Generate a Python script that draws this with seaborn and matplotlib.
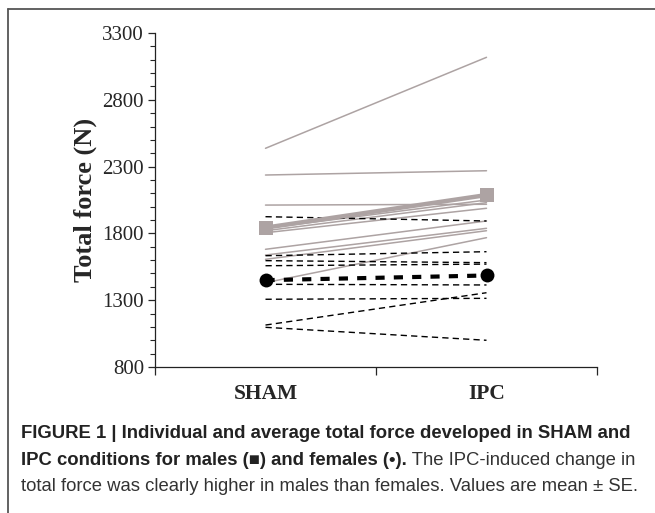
import numpy as np
import pandas as pd
import matplotlib
matplotlib.use('Agg')
import matplotlib.pyplot as plt
from matplotlib.lines import Line2D
from matplotlib.ticker import MultipleLocator, FixedLocator
import seaborn as sns

# values (N)
conditions = ['SHAM', 'IPC']
male_sham = [2437, 2237, 2012, 1838, 1820, 1805, 1681, 1638, 1606, 1431]
male_ipc = [3118, 2269, 2018, 2050, 2030, 1988, 1893, 1838, 1820, 1768]
female_sham = [1925, 1633, 1596, 1558, 1419, 1307, 1114, 1097]
female_ipc = [1893, 1663, 1581, 1570, 1414, 1314, 1356, 1000]
male_mean = [1843, 2087]
female_mean = [1450, 1485]
y_ticks = [800, 1300, 1800, 2300, 2800, 3300]

gray = '#ada3a3'

rows = []
for sex, sham, ipc in [('M', male_sham, male_ipc), ('F', female_sham, female_ipc)]:
    for i, (a, b) in enumerate(zip(sham, ipc)):
        rows.append({'subject': f'{sex}{i}', 'sex': sex, 'pos': 0, 'force': a})
        rows.append({'subject': f'{sex}{i}', 'sex': sex, 'pos': 1, 'force': b})
df = pd.DataFrame(rows)
means = pd.DataFrame({'pos': [0, 1, 0, 1],
                      'force': male_mean + female_mean,
                      'sex': ['M', 'M', 'F', 'F']})

sns.set_style('ticks')
plt.rcParams['font.family'] = ['Liberation Serif', 'DejaVu Serif']

fig = plt.figure(figsize=(6.55, 5.13), dpi=100)
ax = fig.add_axes([155 / 655, 1 - 367 / 513, 442 / 655, 334 / 513])

sns.lineplot(data=df[df['sex'] == 'M'], x='pos', y='force', units='subject',
             estimator=None, color=gray, lw=1.1, ax=ax)
sns.lineplot(data=df[df['sex'] == 'F'], x='pos', y='force', units='subject',
             estimator=None, color='black', lw=1.0, ax=ax,
             linestyle=(0, (4.5, 3)))
sns.lineplot(data=means[means['sex'] == 'M'], x='pos', y='force',
             estimator=None, color=gray, lw=3.2, marker='s', markersize=9.5,
             markeredgewidth=0, ax=ax)
sns.lineplot(data=means[means['sex'] == 'F'], x='pos', y='force',
             estimator=None, color='black', lw=3.0, marker='o', markersize=10,
             markeredgewidth=0, linestyle=(0, (2.2, 2.2)), ax=ax)

ax.set_xlim(-0.5, 1.5)
ax.set_ylim(800, 3300)
ax.set_yticks(y_ticks)
ax.yaxis.set_minor_locator(MultipleLocator(100))
ax.set_xticks([0, 1])
ax.set_xticklabels(conditions, fontweight='bold', fontsize=15.5)
ax.xaxis.set_minor_locator(FixedLocator([-0.5, 0.5, 1.5]))
ax.tick_params(axis='x', which='major', length=0, pad=12)
ax.tick_params(axis='x', which='minor', length=6, width=0.9, direction='out')
ax.tick_params(axis='y', which='major', length=5, width=0.9, labelsize=15, pad=3)
ax.tick_params(axis='y', which='minor', length=3.5, width=0.8)
ax.set_xlabel('')
ax.set_ylabel('Total force (N)', fontweight='bold', fontsize=19, labelpad=4)
sns.despine(ax=ax)
for s in ['left', 'bottom']:
    ax.spines[s].set_linewidth(0.9)
    ax.spines[s].set_color('#222222')

# frame around the figure panel
fig.add_artist(Line2D([7.5 / 655, 1], [1 - 8.5 / 513, 1 - 8.5 / 513],
                      transform=fig.transFigure, color='#555555', lw=1.3))
fig.add_artist(Line2D([7.5 / 655, 7.5 / 655], [0, 1 - 8.5 / 513],
                      transform=fig.transFigure, color='#555555', lw=1.3))

cap = ['Liberation Sans', 'DejaVu Sans']
fs = 13.3
x0 = 21 / 655
fig.text(x0, 1 - 438 / 513,
         'FIGURE 1 | Individual and average total force developed in SHAM and',
         family=cap, fontsize=fs, fontweight='bold', color='#222222')
t2 = fig.text(x0, 1 - 465 / 513,
              'IPC conditions for males (\u25a0) and females (\u2022).',
              family=cap, fontsize=fs, fontweight='bold', color='#222222')
ax.annotate(' The IPC-induced change in', xy=(1, 0), xycoords=t2,
            va='bottom', ha='left', family=cap, fontsize=fs, color='#333333',
            annotation_clip=False)
fig.text(x0, 1 - 491 / 513,
         'total force was clearly higher in males than females. Values are mean \u00b1 SE.',
         family=cap, fontsize=fs, color='#333333')

fig.savefig('out.png', dpi=100)
